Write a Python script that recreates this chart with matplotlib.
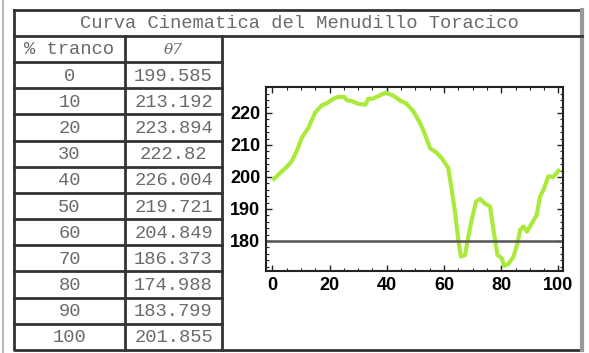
#!/usr/bin/env python3
"""Curva cinematica del menudillo toracico: table + curve"""
import matplotlib
matplotlib.use('Agg')
import matplotlib.pyplot as plt
from matplotlib.ticker import MultipleLocator

title = 'Curva Cinematica del Menudillo Toracico'
col_headers = ['% tranco', 'θ7']
table_pct = ['0', '10', '20', '30', '40', '50', '60', '70', '80', '90', '100']
table_theta = ['199.585', '213.192', '223.894', '222.82', '226.004', '219.721',
               '204.849', '186.373', '174.988', '183.799', '201.855']

# curve
curve_x = [0.6, 2.7, 5, 6.8, 8.5, 10.3, 12.6, 14.9, 17.2, 19.2, 21.3, 23.1, 25.1,
           26, 27.7, 30.1, 32.6, 33.5, 35.3, 37.6, 39.6, 42.3, 44.6, 46.9, 49.3,
           51.6, 53.4, 55.1, 57.5, 59.2, 61.5, 62.7, 63.9, 65, 65.9, 67.4, 68.5,
           69.7, 71.2, 72.6, 74.4, 76.1, 77.3, 78.7, 80.2, 81, 82.5, 84.3, 85.7,
           86.6, 87.8, 89, 90.7, 92.4, 93.6, 94.8, 96.5, 98.3, 100]
curve_y = [199.4, 201.2, 203.1, 204.9, 208, 212.2, 215.3, 220, 222.3, 223.1, 224.4,
           225, 225, 224, 223.7, 222.8, 222.6, 224.4, 224.5, 225.5, 226.3, 225.4,
           223.9, 222.9, 220.5, 216.9, 213.2, 209, 207.5, 205.9, 202.8, 196, 188.7,
           180.3, 175.1, 175.6, 181.4, 186.6, 192.3, 193.1, 191.6, 190.8, 183.4,
           175.6, 174.6, 172.2, 172.8, 175.1, 179.3, 183.4, 184.5, 182.9, 185.5,
           188.1, 193.9, 196, 200.2, 200, 201.9]
ref_level = 180

W, H = 589, 353
fig = plt.figure(figsize=(W / 100, H / 100), dpi=100)

# overlay in pixel coordinates for the table
bg = fig.add_axes([0, 0, 1, 1])
bg.set_xlim(0, W)
bg.set_ylim(H, 0)
bg.axis('off')

left, c1, c2, right = 14, 125, 222, 582
top, t_bot, h_bot, bottom = 10, 36, 62, 350
row_h = (bottom - h_bot) / len(table_pct)
mono = dict(family='Liberation Mono', fontsize=13.5, color='#6a6a6a',
            ha='center', va='center')

bg.plot([2.5, 2.5], [0, H], color='#bbbbbb', lw=1.5)
bg.plot([left, right, right, left, left], [top, top, bottom, bottom, top],
        color='#333333', lw=2)
bg.plot([right, right], [top, bottom], color='#999999', lw=3)
bg.plot([left, right], [t_bot, t_bot], color='#333333', lw=2)
bg.plot([c1, c1], [t_bot, bottom], color='#333333', lw=2)
bg.plot([c2, c2], [t_bot, bottom], color='#333333', lw=2)
bg.plot([left, c2], [h_bot, h_bot], color='#333333', lw=2)
for i in range(1, len(table_pct)):
    y = h_bot + i * row_h
    bg.plot([left, c2], [y, y], color='#333333', lw=2)

bg.text((left + right) / 2 + 1, (top + t_bot) / 2 + 1, title, **mono)
bg.text((left + c1) / 2, (t_bot + h_bot) / 2 + 1, col_headers[0], **mono)
bg.text((c1 + c2) / 2, (t_bot + h_bot) / 2 + 1, col_headers[1],
        **{**mono, 'family': 'DejaVu Serif', 'style': 'italic', 'fontsize': 11})
for i, (p, t) in enumerate(zip(table_pct, table_theta)):
    y = h_bot + (i + 0.5) * row_h + 1
    bg.text((left + c1) / 2, y, p, **mono)
    bg.text((c1 + c2) / 2, y, t, **mono)

# chart
ax_l, ax_r, ax_t, ax_b = 266, 563, 87, 271
ax = fig.add_axes([ax_l / W, 1 - ax_b / H, (ax_r - ax_l) / W, (ax_b - ax_t) / H])
ax.plot(curve_x, curve_y, color='#aaea3c', lw=3, solid_joinstyle='round')
ax.axhline(ref_level, color='#555555', lw=1.8)
ax.set_xlim(-2.2, 101.6)
ax.set_ylim(170.6, 228.1)
ax.xaxis.set_major_locator(MultipleLocator(20))
ax.xaxis.set_minor_locator(MultipleLocator(5))
ax.yaxis.set_major_locator(MultipleLocator(10))
ax.yaxis.set_minor_locator(MultipleLocator(2))
ax.tick_params(which='both', direction='in', top=True, right=True, color='#222222')
ax.tick_params(which='major', length=4, width=1)
ax.tick_params(which='minor', length=2, width=0.8)
ax.tick_params(labelsize=13, pad=4)
for lab in ax.get_xticklabels() + ax.get_yticklabels():
    lab.set_fontfamily('Liberation Sans')
    lab.set_fontweight('bold')
for s in ax.spines.values():
    s.set_linewidth(1.5)
    s.set_color('#222222')

fig.savefig('out.png', dpi=100)
